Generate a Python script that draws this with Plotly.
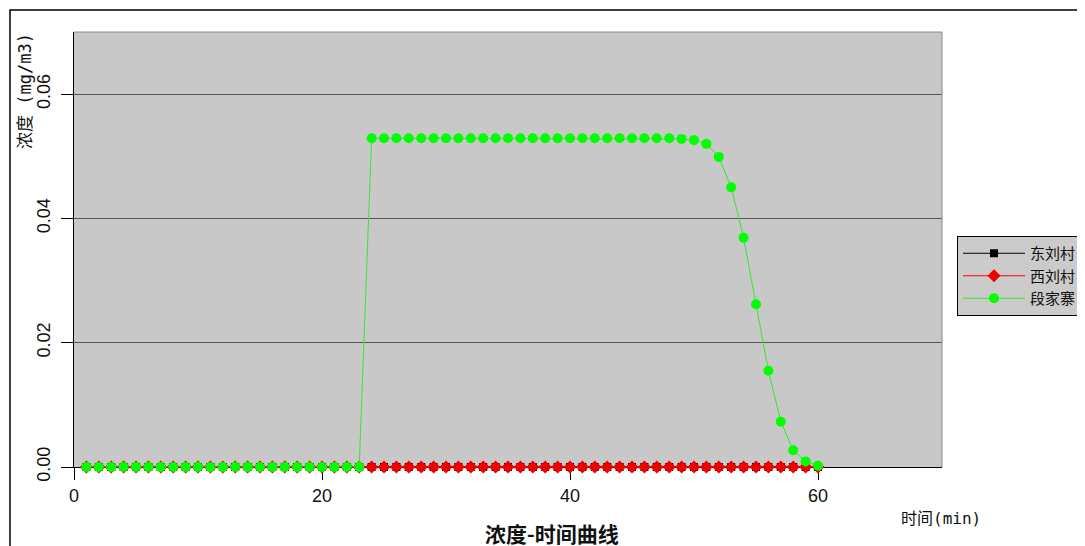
import plotly.graph_objects as go

# ---- data ----
time_min = [i for i in range(1, 61)]
dongliucun = [0.0] * 60
xiliucun = [0.0] * 60
duanjiazhai = [
    0, 0, 0, 0, 0, 0, 0, 0, 0, 0,
    0, 0, 0, 0, 0, 0, 0, 0, 0, 0,
    0, 0, 0, 0.0529, 0.0529, 0.0529, 0.0529, 0.0529, 0.0529, 0.0529,
    0.0529, 0.0529, 0.0529, 0.0529, 0.0529, 0.0529, 0.0529, 0.0529, 0.0529, 0.0529,
    0.0529, 0.0529, 0.0529, 0.0529, 0.0529, 0.0529, 0.0529, 0.0529, 0.0528, 0.0526,
    0.0520, 0.0499, 0.0450, 0.0369, 0.0262, 0.0155, 0.0073, 0.0027, 0.0009, 0.0002,
]
series_names = ["东刘村", "西刘村", "段家寨"]
x_ticks = [0, 20, 40, 60]
y_ticks = [0.0, 0.02, 0.04, 0.06]

# ---- layout constants (screen pixels of the target; page has an 8px body margin) ----
OFF = 8
W, H = 1085, 546
L, R, T, B = 74 - OFF, 942 - OFF, 32 - OFF, 467 - OFF
pw, ph = R - L, B - T


def px(x):
    return (x - OFF - L) / pw


def py(y):
    return (B - (y - OFF)) / ph


fig = go.Figure()
fig.add_trace(go.Scatter(
    x=time_min, y=dongliucun, name=series_names[0], mode="lines+markers",
    line=dict(color="#000000", width=1),
    marker=dict(symbol="square", size=8, color="#000000"), cliponaxis=False))
fig.add_trace(go.Scatter(
    x=time_min, y=xiliucun, name=series_names[1], mode="lines+markers",
    line=dict(color="#ff0000", width=1),
    marker=dict(symbol="diamond", size=10, color="#ee0000"), cliponaxis=False))
fig.add_trace(go.Scatter(
    x=time_min, y=duanjiazhai, name=series_names[2], mode="lines+markers",
    line=dict(color="#33e833", width=1),
    marker=dict(symbol="circle", size=10, color="#00ff00"), cliponaxis=False))

tick_font = dict(family="Liberation Sans, Arial, sans-serif", size=18, color="#111111")

fig.update_layout(
    width=W, height=H,
    margin=dict(l=L, r=W - R, t=T, b=H - B, autoexpand=False),
    paper_bgcolor="#ffffff", plot_bgcolor="#c8c8c8",
    showlegend=True,
    legend=dict(
        x=px(957), y=py(236), xanchor="left", yanchor="top",
        bgcolor="#cbcbcb", bordercolor="#000000", borderwidth=1,
        font=dict(family="Noto Sans CJK SC", size=15, color="#111111"),
        itemwidth=62, tracegroupgap=0,
    ),
    xaxis=dict(
        range=[0, 70], tickvals=x_ticks, showgrid=False, zeroline=False,
        showline=True, linecolor="#000000", linewidth=1, layer="below traces",
        ticks="outside", ticklen=12, tickcolor="#000000", tickfont=tick_font,
        ticklabelstandoff=0,
    ),
    yaxis=dict(
        range=[0, 0.07], tickvals=y_ticks, tickformat=".2f", showgrid=True,
        gridcolor="#555555", gridwidth=1, zeroline=False,
        showline=True, linecolor="#000000", linewidth=1, layer="below traces",
        ticks="outside", ticklen=12, tickcolor="#000000", tickfont=tick_font,
        tickangle=-90, ticklabelstandoff=4,
    ),
    shapes=[
        # outer frame (left and top edges visible)
        dict(type="path", xref="paper", yref="paper",
             path=f"M {px(10)},{py(H + 30)} L {px(10)},{py(10)} L {px(W + 30)},{py(10)}",
             line=dict(color="#000000", width=1.5)),
        # plot area top/right border
        dict(type="path", xref="paper", yref="paper",
             path="M 0,1 L 1,1 L 1,0", line=dict(color="#8a8a8a", width=1)),
    ],
    annotations=[
        dict(text="浓度 (mg/m3)", xref="paper", yref="paper", x=px(25), y=py(31),
             xanchor="center", yanchor="top", textangle=-90, showarrow=False,
             font=dict(family="DejaVu Sans Mono, Noto Sans CJK SC", size=17, color="#111111")),
        dict(text="时间(min)", xref="paper", yref="paper", x=px(941), y=py(518),
             xanchor="center", yanchor="middle", showarrow=False,
             font=dict(family="DejaVu Sans Mono, Noto Sans CJK SC", size=16, color="#111111")),
        dict(text="<b>浓度-时间曲线</b>", xref="paper", yref="paper", x=px(552), y=py(533),
             xanchor="center", yanchor="middle", showarrow=False,
             font=dict(family="Noto Sans CJK SC", size=21, color="#111111")),
    ],
)

fig.write_html("out.html")
